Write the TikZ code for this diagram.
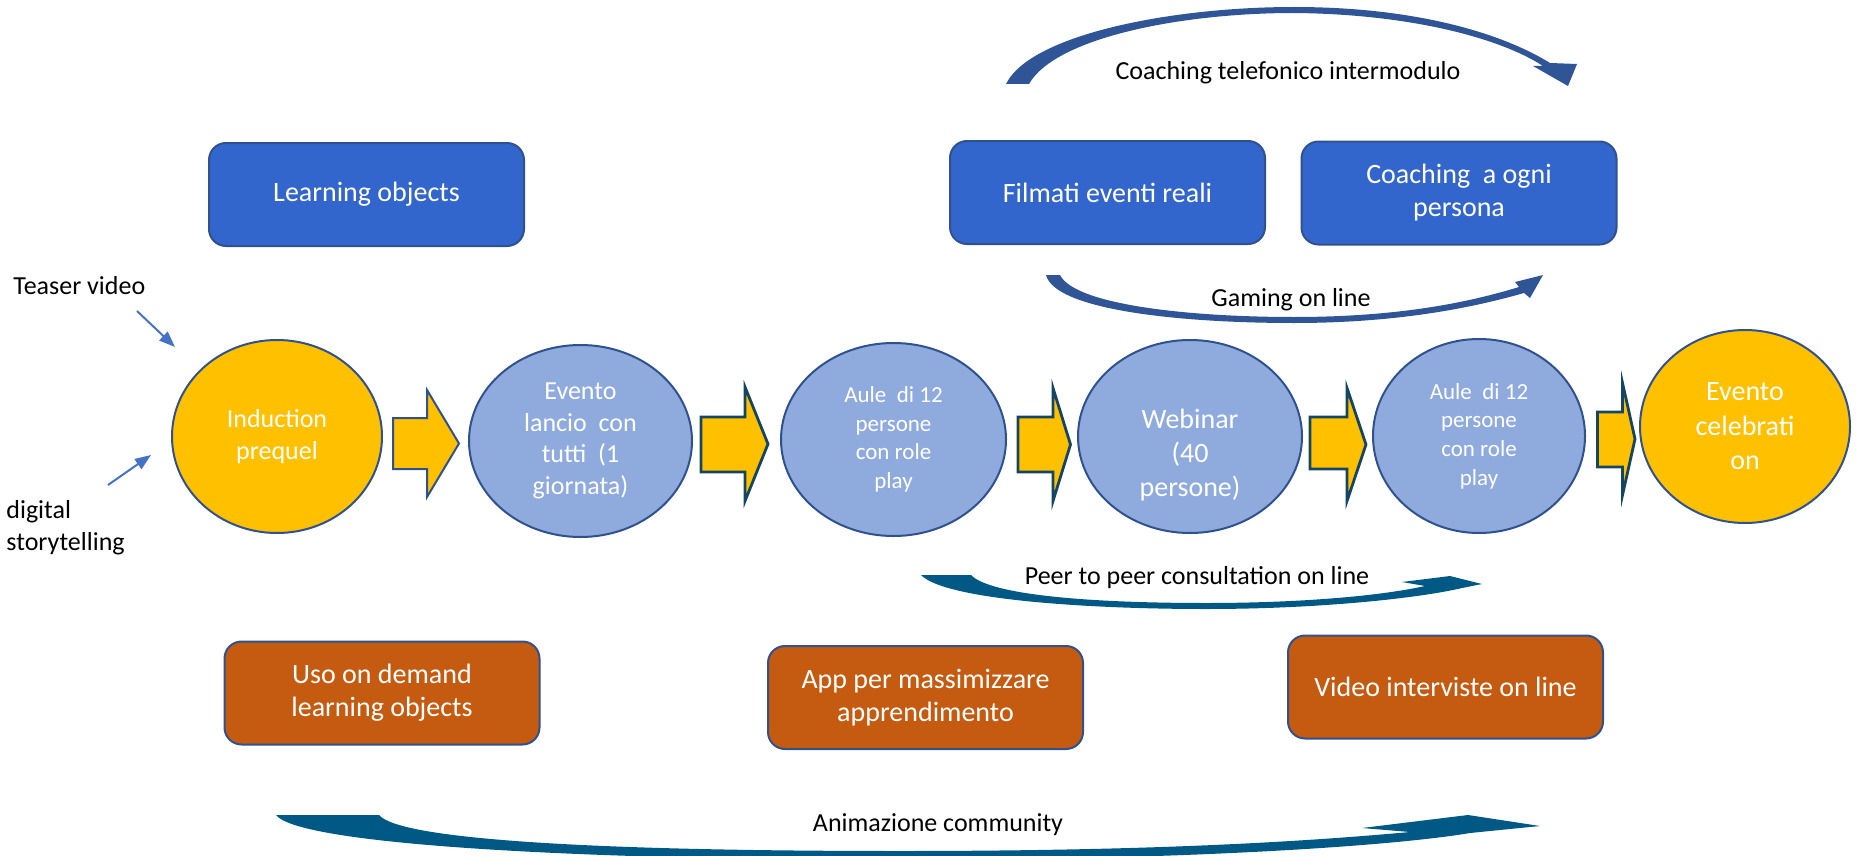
\documentclass[tikz,border=0pt]{standalone}
\usepackage{fontspec}
\setmainfont{Carlito}
\usetikzlibrary{shapes.geometric,arrows.meta}
\definecolor{boxblue}{RGB}{51,102,204}
\definecolor{boxorange}{RGB}{197,90,17}
\definecolor{edgeblue}{RGB}{47,82,143}
\definecolor{ellyellow}{RGB}{255,192,0}
\definecolor{elllight}{RGB}{143,170,220}
\definecolor{arrowteal}{RGB}{20,70,100}
\definecolor{arcblue}{RGB}{47,85,151}
\definecolor{arcteal}{RGB}{0,88,132}
\definecolor{pointblue}{RGB}{68,114,196}
\tikzset{
  bluebox/.style={rectangle, rounded corners=8.5pt, draw=edgeblue, line width=1pt,
    fill=boxblue, text=white, align=center, minimum width=157.5pt,
    minimum height=51.5pt, font=\fontsize{14}{16.5}\selectfont},
  orangebox/.style={bluebox, fill=boxorange},
  phase/.style={ellipse, draw=edgeblue, line width=1pt, inner sep=0pt,
    text=white, align=center, font=\fontsize{13}{15.8}\selectfont},
  keyphase/.style={phase, fill=ellyellow},
  midphase/.style={phase, fill=elllight},
  note/.style={text=black, inner sep=0pt, font=\fontsize{13}{15.8}\selectfont},
  pointer/.style={draw=pointblue, line width=1pt, -{Triangle[length=8pt,width=6pt]}},
  stepshape/.style={fill=ellyellow, draw=arrowteal, line width=1.4pt, line join=miter},
}
\begin{document}
\begin{tikzpicture}[x=0.5pt,y=-0.5pt]
\useasboundingbox (0,0) rectangle (1862,856);
% objects at depth 100:
\node[bluebox] (learnobj) at (366.5,194.5) {Learning objects};
\node[bluebox] (filmati) at (1107.5,192.5) {Filmati eventi reali};
\node[bluebox] (coachpers) at (1459,193) {Coaching~ a ogni\\persona};
\node[orangebox] (usodemand) at (382,693) {Uso on demand\\learning objects};
\node[orangebox] (appmax) at (925.5,697.5) {App per massimizzare\\apprendimento};
\node[orangebox] (videoint) at (1445.5,687) {Video interviste on line};
% objects at depth 75:
\node[keyphase, minimum width=105pt, minimum height=96.5pt] (induction) at (277,436.5) {Induction\\prequel};
\node[midphase, minimum width=111.5pt, minimum height=96pt] (lancio) at (580.5,441) {Evento\\lancio~ con\\tutti~ (1\\giornata)};
\node[midphase, minimum width=112.5pt, minimum height=96.5pt, font=\fontsize{11.5}{14.3}\selectfont] (aula1) at (893.5,439.5) {Aule~ di 12\\persone\\con role\\play};
\node[midphase, minimum width=112pt, minimum height=96.5pt] (webinar) at (1190,436.5) {};
\node[note, text=white, align=center, font=\fontsize{14}{17}\selectfont] (webinartxt) at (1190,455) {Webinar\\(40\\persone)};
\node[midphase, minimum width=106pt, minimum height=97pt, font=\fontsize{11.5}{14.3}\selectfont] (aula2) at (1479,436) {Aule~ di 12\\persone\\con role\\play};
\node[keyphase, minimum width=105pt, minimum height=96.5pt, font=\fontsize{14}{17.25}\selectfont] (celebra) at (1745,426.5) {Evento\\celebrati\\on};
% objects at depth 50:
\path[stepshape, draw=edgeblue, line width=1pt] (393,418) -- (427,418) -- (427,390) -- (459,443.5) -- (427,497) -- (427,469) -- (393,469) -- cycle;
\path[stepshape] (701,417) -- (745,417) -- (745,387) -- (768,444) -- (745,501) -- (745,472) -- (701,472) -- cycle;
\path[stepshape] (1018,417) -- (1053,417) -- (1053,388) -- (1070.5,444.5) -- (1053,501) -- (1053,472) -- (1018,472) -- cycle;
\path[stepshape] (1310,417) -- (1347,417) -- (1347,388) -- (1366,444.5) -- (1347,501) -- (1347,469) -- (1310,469) -- cycle;
\path[stepshape] (1597.5,412) -- (1622.5,412) -- (1622.5,383) -- (1635,439) -- (1622.5,495) -- (1622.5,467) -- (1597.5,467) -- cycle;
% objects at depth 25:
\path[fill=arcblue] (1006,84) .. controls (1030,35) and (1170,7) .. (1294,7) .. controls (1420,7) and (1505,35) .. (1550,63) -- (1577,64) -- (1568,86) -- (1533,66) -- (1543,66) .. controls (1500,38) and (1410,14) .. (1294,13) .. controls (1180,13) and (1055,38) .. (1029,84) -- cycle;
\path[fill=arcblue] (1046,275) .. controls (1055,310) and (1180,323) .. (1294,323) .. controls (1400,323) and (1475,307) .. (1524,293) -- (1530,298) -- (1543,275) -- (1515,282) -- (1519,287) .. controls (1470,302) and (1400,317) .. (1294,317) .. controls (1190,317) and (1075,305) .. (1060,275) -- cycle;
\path[fill=arcteal] (921,575) .. controls (945,600) and (1090,609) .. (1206,609) .. controls (1320,609) and (1420,598) .. (1462,588) -- (1482,584) -- (1450,576) -- (1402,582) -- (1425,586) .. controls (1380,596) and (1300,603) .. (1206,603) .. controls (1090,603) and (990,595) .. (971,575) -- cycle;
\path[fill=arcteal] (276,815) .. controls (300,846) and (600,860) .. (900,860) .. controls (1200,860) and (1400,845) .. (1470,833) -- (1540,826) -- (1468,815) -- (1362,828) -- (1410,832) .. controls (1300,842) and (1150,851) .. (900,851) .. controls (600,851) and (400,840) .. (379,815) -- cycle;
\node[note] (coachtel) at (1288,73) {Coaching telefonico intermodulo};
\node[note] (gaming) at (1291,300) {Gaming on line};
\node[note] (peer) at (1197,578) {Peer to peer consultation on line};
\node[note] (animaz) at (938,825) {Animazione community};
% objects at depth 0:
\node[note, anchor=west] (teaser) at (13,286) {Teaser video};
\node[note, anchor=west, align=left] (digital) at (6,527.5) {digital\\storytelling};
\coordinate (teaserfrom) at (137,311);
\coordinate (teaserto) at (175,347);
\coordinate (digitalfrom) at (108,485);
\coordinate (digitalto) at (151,455);
\draw[pointer] (teaserfrom) -- (teaserto);
\draw[pointer] (digitalfrom) -- (digitalto);
\end{tikzpicture}
\end{document}
